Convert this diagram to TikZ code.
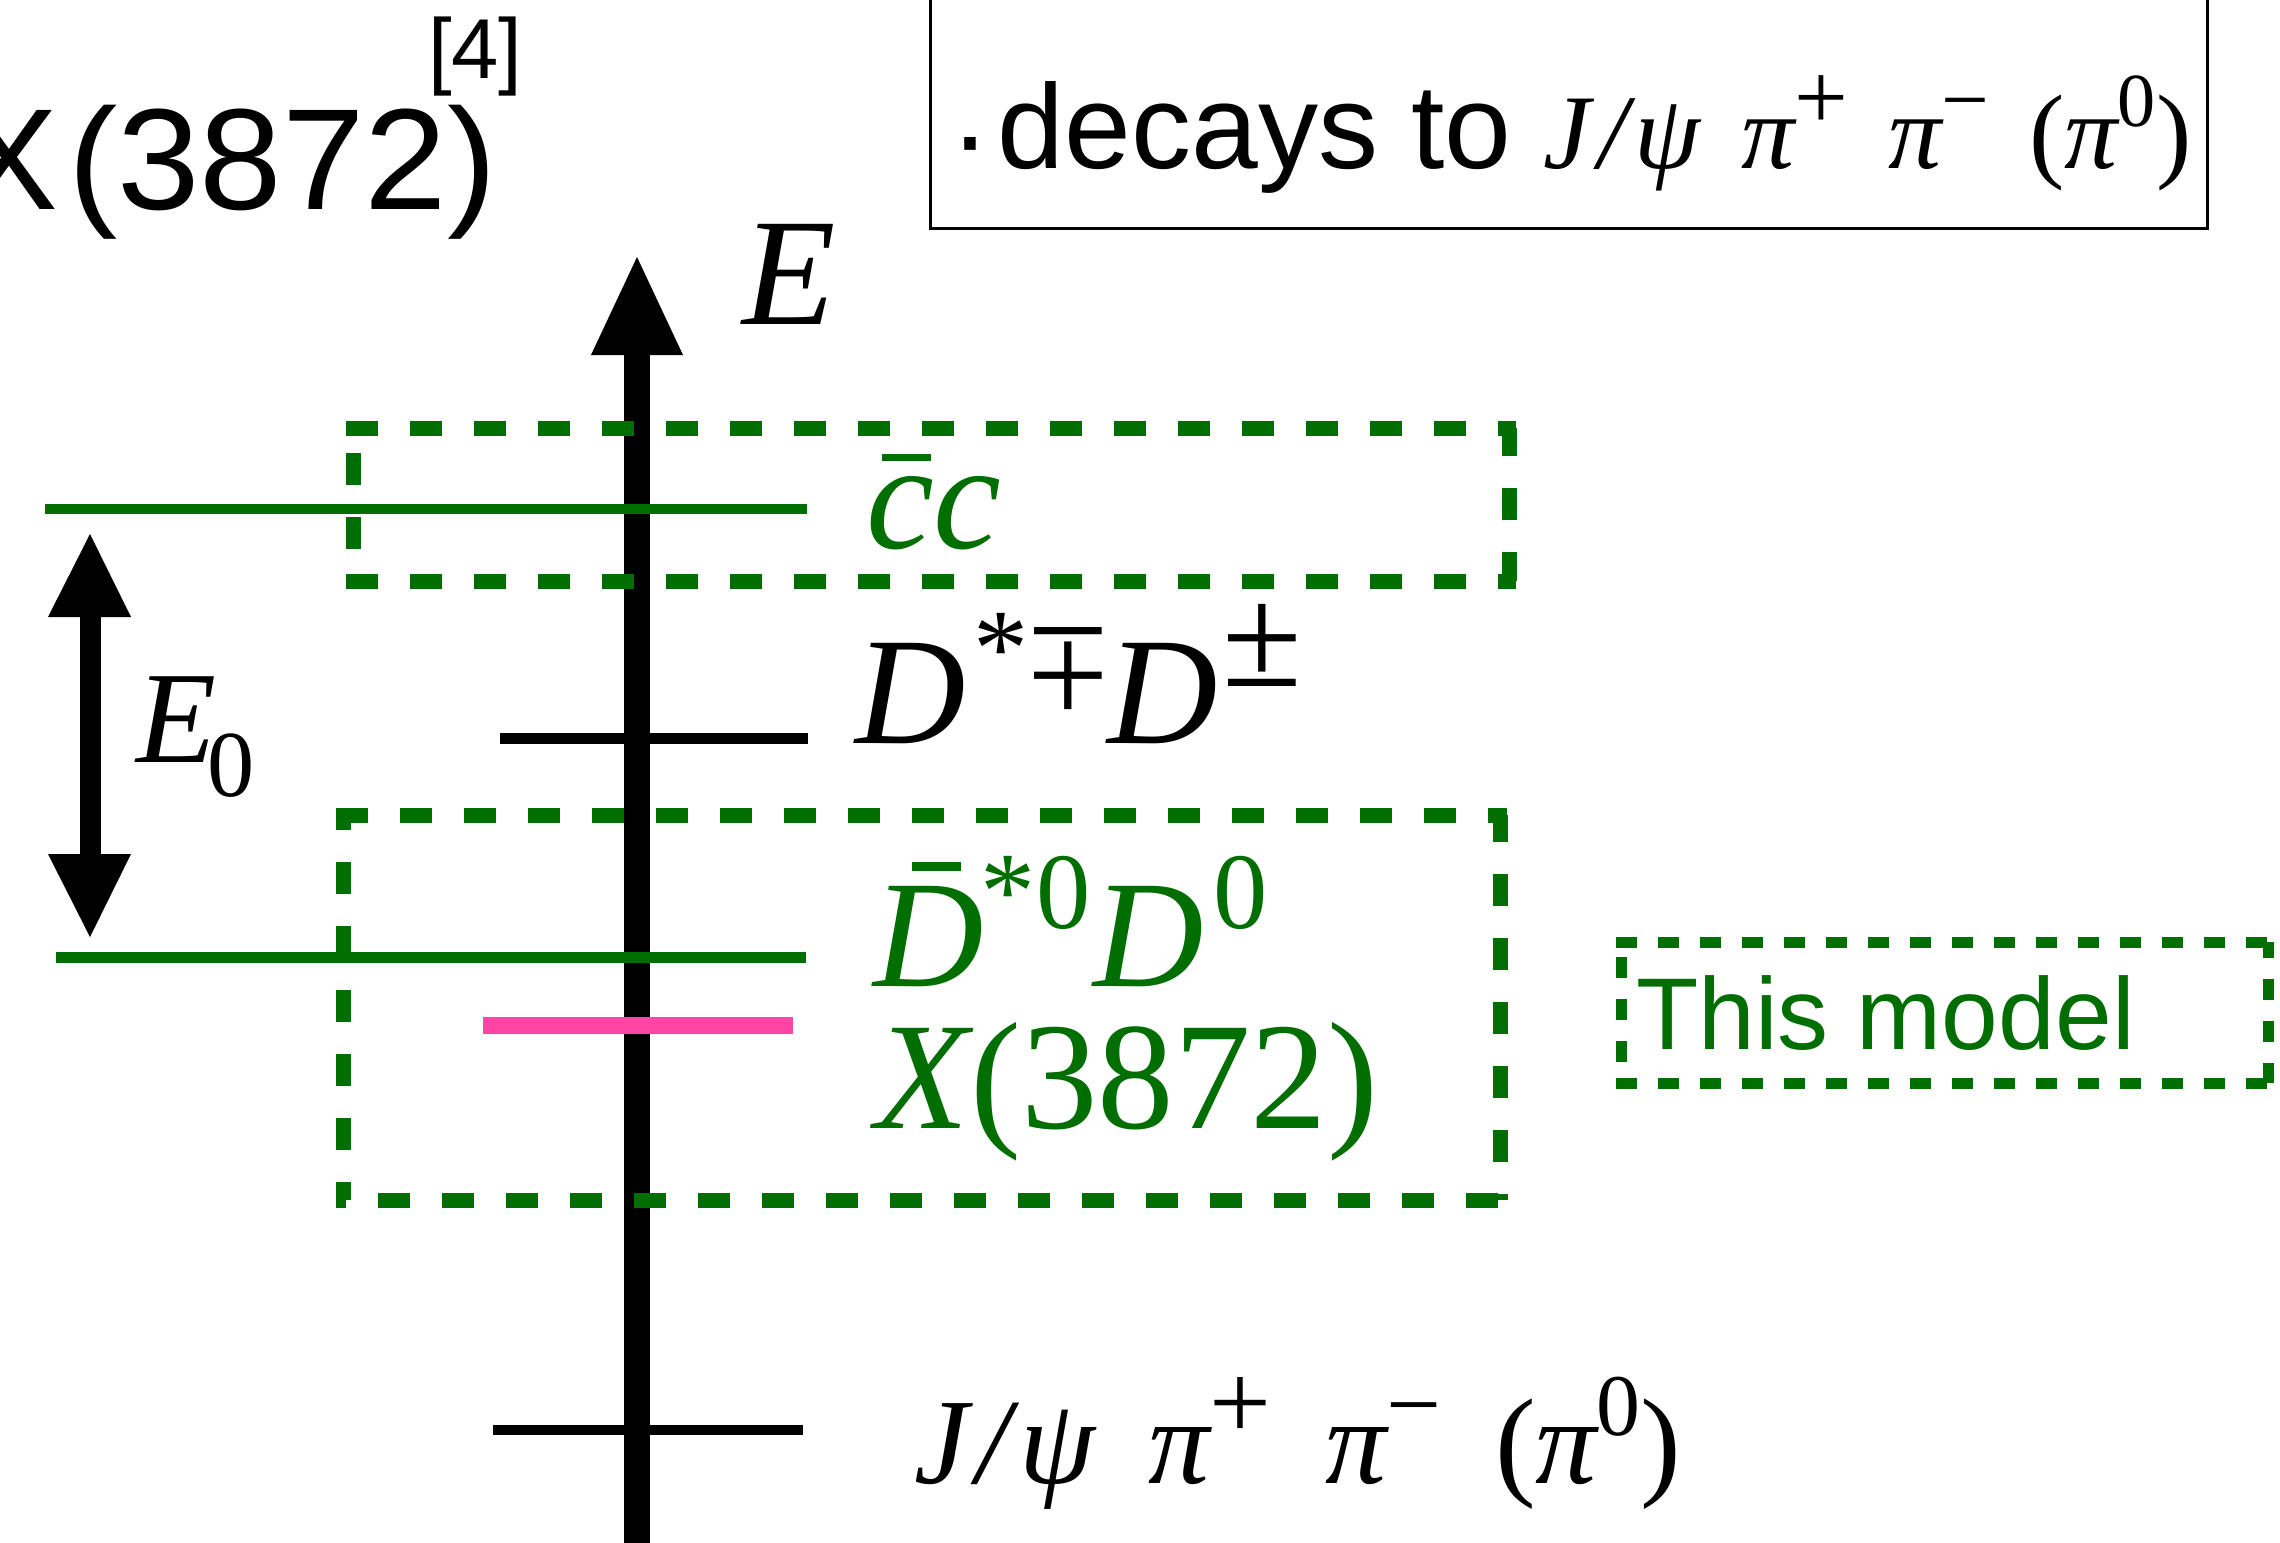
\documentclass[tikz,border=0pt]{standalone}
\usepackage{fontspec}
\usepackage{graphicx}
\setmainfont{Liberation Serif}
\newfontfamily\hsans{Liberation Sans}
\definecolor{dgreen}{RGB}{0,110,0}
\definecolor{hpink}{RGB}{255,70,165}
\newcommand\psup[3]{\raisebox{#1}{\scalebox{#2}{#3}}}
\newcommand\decaytxt[1]{{\itshape J\hspace{0.07em}/\hspace{0.07em}ψ}\hspace{#1}{\itshape π}\psup{0.36em}{0.9}{+}\hspace{#1}{\itshape π}\psup{0.375em}{0.8}{−}\hspace{#1}({\itshape π}\psup{0.39em}{0.72}{0})}
\begin{document}
\begin{tikzpicture}[x=1pt,y=-1pt,
  lab/.style={anchor=base west, inner sep=0pt, outer sep=0pt},
  lvl/.style={line width=11pt},
  gbox/.style={dgreen, line width=15pt, dash pattern=on 32pt off 32pt},
  sbox/.style={dgreen, line width=11pt, dash pattern=on 21pt off 21pt}]
\useasboundingbox (0,0) rectangle (2280,1542);
\clip (0,0) rectangle (2280,1542);
\fill[white] (0,0) rectangle (2280,1542);

% title
\node[lab, font=\hsans\fontsize{144pt}{150pt}\selectfont] (title) at (-40,209) {\scalebox{1.03}[1]{X\hspace{9pt}(3872)}};
\node[lab, font=\hsans\fontsize{85pt}{88pt}\selectfont] (ref) at (428,78) {[4]};

% decay box
\draw[line width=3pt] (930,-20) rectangle (2207,228);
\node[lab, font=\hsans\fontsize{120pt}{124pt}\selectfont] (dec) at (950,168)
  {\raisebox{-8pt}{·}\hspace{8pt}decays to\hspace{32pt}{\rmfamily\fontsize{106pt}{110pt}\selectfont\decaytxt{0.38em}}};

% axis
\coordinate (axbot) at (637,1570);
\coordinate (axtop) at (637,257);
\draw[line width=26pt] (axbot) -- (637,350);
\fill (591,355) -- (axtop) -- (683,355) -- cycle;
\node[lab, font=\fontsize{153pt}{160pt}\selectfont] (E) at (742,324) {\itshape E};

% energy levels
\draw[lvl, black] (500,738) -- (808,738);
\draw[lvl, black, line width=10pt] (493,1430) -- (803,1430);

% dashed boxes
\draw[gbox] (346,428) -- (1516,428);
\draw[gbox] (346,581) -- (1516,581);
\draw[gbox, dash phase=39pt] (353,428) -- (353,581);
\draw[gbox, dash phase=4pt] (1509,428) -- (1509,581);

\draw[gbox] (336,815) -- (1507,815);
\draw[gbox, dash phase=22pt] (336,1200) -- (1507,1200);
\draw[gbox, dash phase=17pt] (343,815) -- (343,1200);
\draw[gbox, dash phase=5pt] (1500,815) -- (1500,1200);

\draw[sbox] (1616,942) -- (2273,942);
\draw[sbox] (1616,1083) -- (2273,1083);
\draw[sbox, dash phase=27pt] (1621,942) -- (1621,1083);
\draw[sbox, dash phase=5pt] (2268,942) -- (2268,1083);

% green / pink levels (on top)
\draw[lvl, dgreen, line width=10pt] (45,509) -- (807,509);
\draw[lvl, dgreen] (56,957) -- (806,957);
\draw[hpink, line width=17pt] (483,1025) -- (793,1025);

% E0 arrow
\coordinate (e0top) at (90,534);
\coordinate (e0bot) at (90,937);
\draw[line width=21pt] (90,612) -- (90,859);
\fill (48,617) -- (e0top) -- (131,617) -- cycle;
\fill (48,854) -- (e0bot) -- (131,854) -- cycle;
\node[lab, font=\fontsize{131pt}{136pt}\selectfont] (E0) at (136,762)
  {{\itshape E}\hspace{-8.6pt}\psup{-34pt}{0.72}{0}};

% labels
\node[lab, dgreen, font=\fontsize{153pt}{160pt}\selectfont] (cc) at (866,548)
  {\rlap{\hspace{16pt}\rule[87pt]{49pt}{7pt}}\itshape cc};
\node[lab, font=\fontsize{153pt}{160pt}\selectfont] (Dpm) at (855,743)
  {{\itshape D}\hspace{7.6pt}\psup{58pt}{0.72}{*}\hspace{0pt}\raisebox{116pt}{\scalebox{0.95}[-0.95]{±}}\hspace{0pt}{\itshape D}\hspace{4pt}\psup{57pt}{0.95}{±}};
\node[lab, dgreen, font=\fontsize{153pt}{160pt}\selectfont] (D0) at (873,986)
  {\rlap{\hspace{39pt}\rule[115pt]{49pt}{9pt}}{\itshape D}\hspace{-2.6pt}\psup{58pt}{0.72}{*}\hspace{1pt}\psup{57.5pt}{0.71}{0}\hspace{2pt}{\itshape D}\hspace{9.6pt}\psup{57.5pt}{0.71}{0}};
\node[lab, dgreen, font=\fontsize{153pt}{160pt}\selectfont] (X) at (875,1128)
  {{\itshape X}\hspace{2pt}(3872)};
\node[lab, font=\fontsize{122pt}{128pt}\selectfont] (jp) at (914,1483) {\decaytxt{0.44em}};

\node[lab, dgreen, font=\hsans\fontsize{102pt}{106pt}\selectfont] (model) at (1636,1049) {This model};
\end{tikzpicture}
\end{document}
